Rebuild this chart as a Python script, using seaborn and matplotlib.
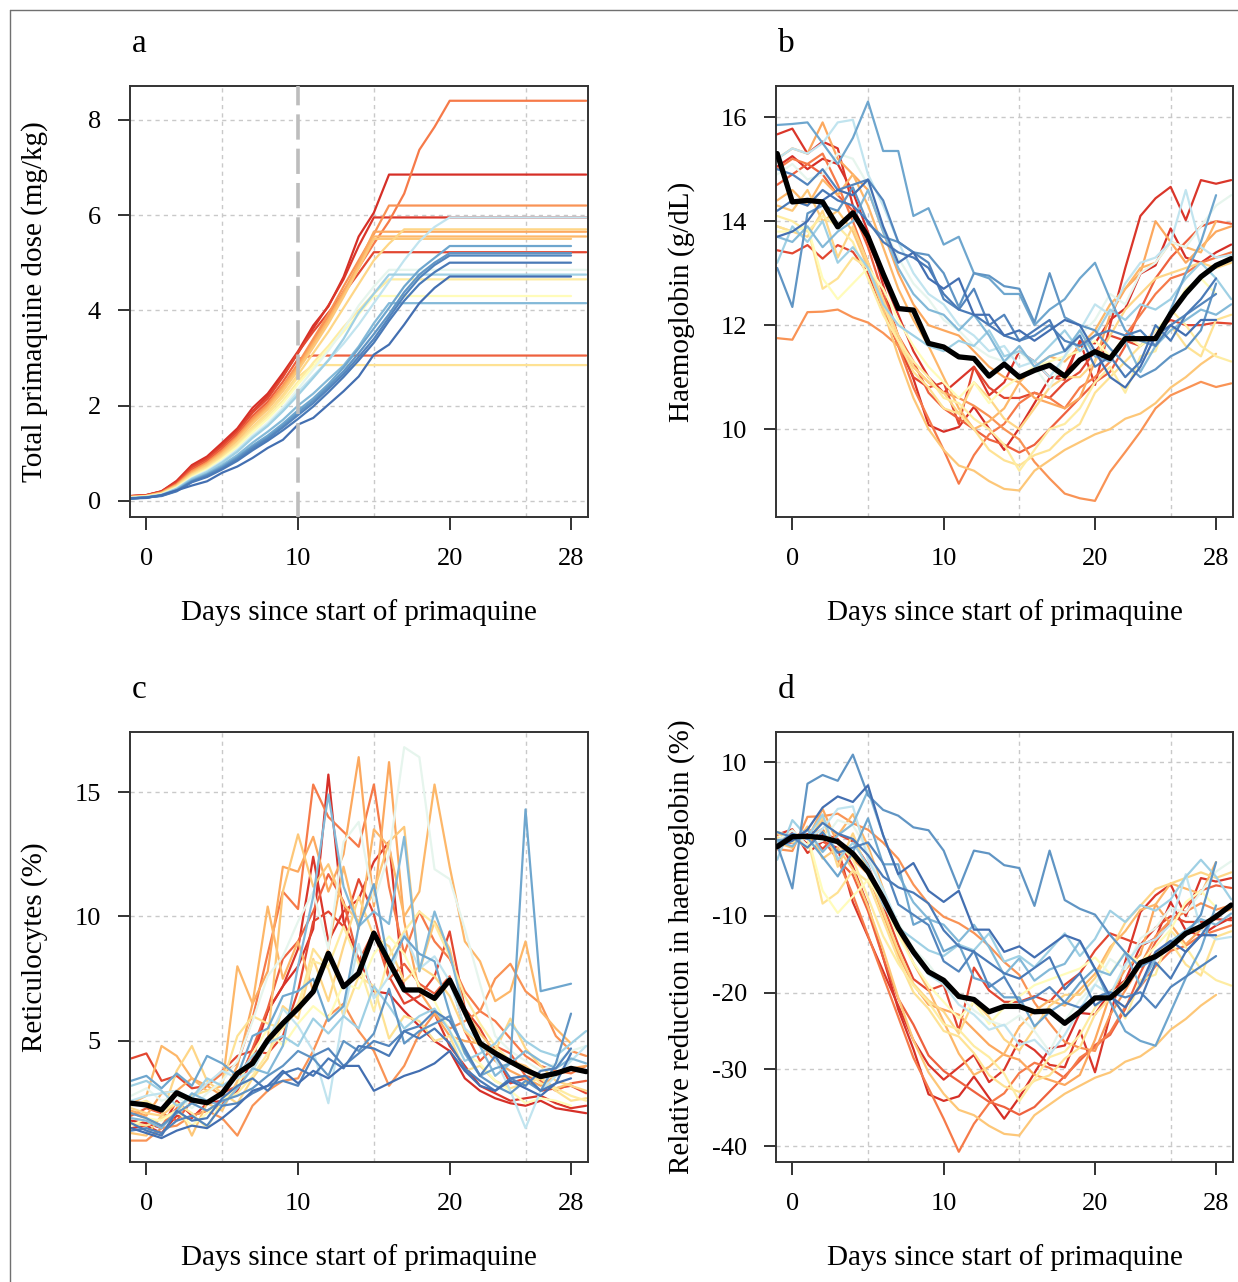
import numpy as np
import pandas as pd
import matplotlib
matplotlib.use("Agg")
import matplotlib.pyplot as plt
from matplotlib.lines import Line2D
import seaborn as sns

# ---------------- data ----------------
# Panel a: cumulative primaquine dose (mg/kg), daily from day -1 up to plateau day
dose_01 = [0.10, 0.12, 0.20, 0.42, 0.75, 0.93, 1.22, 1.52, 1.95, 2.25, 2.68, 3.14, 3.68, 4.08, 4.70, 5.55, 6.05, 6.85]
dose_02 = [0.10, 0.12, 0.20, 0.40, 0.72, 0.90, 1.18, 1.48, 1.88, 2.20, 2.62, 3.10, 3.62, 4.10, 4.65, 5.35, 5.95]
dose_03 = [0.10, 0.12, 0.19, 0.38, 0.70, 0.88, 1.15, 1.45, 1.85, 2.15, 2.60, 3.12, 3.55, 3.95, 4.35, 4.78, 5.22]
dose_04 = [0.09, 0.11, 0.18, 0.36, 0.66, 0.84, 1.10, 1.40, 1.78, 2.08, 2.50, 2.98, 3.05]
dose_05 = [0.08, 0.10, 0.17, 0.34, 0.62, 0.80, 1.05, 1.35, 1.72, 2.02, 2.40, 2.85, 3.35, 3.85, 4.40, 4.90, 5.40, 5.87, 6.45, 7.37, 7.85, 8.40]
dose_06 = [0.08, 0.10, 0.17, 0.34, 0.62, 0.80, 1.05, 1.35, 1.72, 2.02, 2.42, 2.88, 3.40, 3.92, 4.50, 5.05, 5.60, 6.20]
dose_07 = [0.08, 0.10, 0.17, 0.33, 0.60, 0.78, 1.02, 1.32, 1.68, 1.98, 2.38, 2.82, 3.32, 3.82, 4.38, 4.98, 5.65]
dose_08 = [0.08, 0.10, 0.16, 0.32, 0.58, 0.76, 1.00, 1.30, 1.65, 1.95, 2.34, 2.78, 3.28, 3.78, 4.32, 4.92, 5.55]
dose_09 = [0.08, 0.10, 0.16, 0.32, 0.57, 0.75, 0.98, 1.27, 1.62, 1.92, 2.30, 2.74, 3.22, 3.72, 4.28, 4.88, 5.50]
dose_10 = [0.07, 0.09, 0.15, 0.30, 0.55, 0.72, 0.95, 1.22, 1.55, 1.85, 2.22, 2.65, 3.10, 3.55, 4.05, 4.55, 5.05, 5.40, 5.70]
dose_11 = [0.07, 0.09, 0.15, 0.30, 0.54, 0.70, 0.92, 1.20, 1.52, 1.82, 2.18, 2.60, 2.85]
dose_12 = [0.07, 0.09, 0.14, 0.28, 0.52, 0.68, 0.90, 1.16, 1.48, 1.76, 2.10, 2.50, 2.90, 3.25, 3.65, 4.00, 4.35, 4.65]
dose_13 = [0.07, 0.09, 0.14, 0.28, 0.50, 0.66, 0.88, 1.13, 1.44, 1.72, 2.05, 2.45, 2.82, 3.20, 3.55, 3.92, 4.30]
dose_14 = [0.06, 0.08, 0.13, 0.26, 0.48, 0.63, 0.84, 1.08, 1.38, 1.64, 1.96, 2.35, 2.75, 3.15, 3.60, 4.10, 4.50, 4.85]
dose_15 = [0.06, 0.08, 0.13, 0.26, 0.47, 0.62, 0.82, 1.06, 1.35, 1.60, 1.92, 2.28, 2.62, 2.95, 3.30, 3.70, 4.15, 4.60, 5.05, 5.45, 5.75, 5.95]
dose_16 = [0.06, 0.08, 0.12, 0.25, 0.46, 0.60, 0.80, 1.03, 1.32, 1.57, 1.88, 2.22, 2.58, 2.95, 3.40, 3.95, 4.35, 4.75]
dose_17 = [0.05, 0.07, 0.12, 0.24, 0.44, 0.57, 0.75, 0.96, 1.22, 1.45, 1.70, 2.00, 2.25, 2.55, 2.84, 3.24, 3.73, 4.15]
dose_18 = [0.05, 0.07, 0.11, 0.22, 0.42, 0.55, 0.72, 0.92, 1.16, 1.37, 1.62, 1.90, 2.15, 2.45, 2.80, 3.20, 3.62, 4.05, 4.50, 4.85, 5.10, 5.35]
dose_19 = [0.05, 0.07, 0.11, 0.22, 0.41, 0.54, 0.70, 0.90, 1.13, 1.33, 1.58, 1.85, 2.10, 2.40, 2.72, 3.10, 3.50, 3.92, 4.38, 4.75, 5.00, 5.20]
dose_20 = [0.05, 0.07, 0.11, 0.21, 0.40, 0.52, 0.68, 0.87, 1.10, 1.30, 1.54, 1.80, 2.05, 2.35, 2.66, 3.02, 3.40, 3.85, 4.30, 4.68, 4.95, 5.15]
dose_21 = [0.05, 0.07, 0.10, 0.20, 0.39, 0.50, 0.66, 0.84, 1.06, 1.26, 1.48, 1.72, 1.98, 2.28, 2.60, 2.95, 3.32, 3.78, 4.20, 4.55, 4.80, 5.00]
dose_22 = [0.05, 0.06, 0.12, 0.22, 0.32, 0.41, 0.59, 0.72, 0.90, 1.11, 1.28, 1.60, 1.74, 2.02, 2.30, 2.61, 3.07, 3.28, 3.70, 4.15, 4.47, 4.71]
# last day of follow-up for each subject (panel a plateau end)
dose_end = [29, 29, 29, 29, 29, 29, 29, 29, 28, 29, 29, 29, 28, 29, 29, 29, 29, 28, 28, 28, 28, 28]

# Panel b: haemoglobin (g/dL), daily from day -1
hb_01 = [15.05, 15.25, 15.00, 15.20, 15.10, 14.56, 13.79, 12.77, 11.75, 10.97, 10.08, 9.95, 10.04, 10.43, 10.01, 9.60, 10.02, 10.50, 10.98, 11.04, 11.68, 11.65, 12.10, 12.32, 12.99, 13.15, 13.86, 13.30, 13.20, 13.40, 13.55]
hb_02 = [15.67, 15.78, 15.30, 15.53, 15.40, 14.30, 13.60, 12.90, 12.20, 11.50, 11.00, 10.70, 10.95, 11.20, 10.65, 10.90, 11.50, 11.30, 11.00, 10.95, 11.70, 10.85, 12.00, 13.10, 14.10, 14.44, 14.66, 14.02, 14.79, 14.72, 14.79]
hb_03 = [13.44, 13.38, 13.54, 13.28, 13.54, 13.41, 13.00, 12.30, 11.60, 11.00, 10.80, 10.90, 10.10, 11.20, 10.80, 10.60, 10.60, 10.70, 10.60, 10.90, 11.10, 11.50, 11.80, 11.70, 11.60, 11.90, 12.10, 12.00, 12.00, 12.05, 12.03]
hb_04 = [14.70, 14.90, 15.10, 14.90, 14.50, 14.20, 13.50, 12.60, 11.80, 11.30, 10.70, 10.40, 10.20, 10.00, 9.80, 9.70, 9.55, 9.70, 10.00, 10.30, 10.60, 10.90, 11.10, 11.60, 12.30, 12.90, 13.30, 13.60, 13.90, 14.00, 13.95]
hb_05 = [15.00, 15.20, 15.10, 15.30, 14.70, 14.00, 13.20, 12.40, 11.60, 10.80, 10.20, 9.60, 8.95, 9.50, 9.90, 10.10, 10.50, 10.70, 10.60, 10.40, 10.80, 11.00, 11.30, 11.80, 12.20, 12.60, 12.90, 13.00, 13.20, 13.30, 13.40]
hb_06 = [11.75, 11.72, 12.25, 12.26, 12.30, 12.15, 12.05, 11.85, 11.60, 11.20, 10.90, 10.70, 10.60, 10.45, 10.25, 10.00, 9.80, 9.37, 9.05, 8.76, 8.67, 8.62, 9.18, 9.56, 9.95, 10.40, 10.65, 10.78, 10.91, 10.81, 10.88]
hb_07 = [15.20, 15.40, 15.30, 15.90, 15.20, 14.90, 14.60, 13.80, 13.00, 12.40, 12.00, 11.90, 11.80, 11.50, 11.20, 11.00, 10.90, 10.60, 10.50, 10.40, 10.60, 11.30, 12.20, 12.70, 13.00, 14.00, 13.60, 13.20, 13.50, 13.80, 13.90]
hb_08 = [14.40, 14.60, 14.30, 14.80, 14.50, 14.90, 14.30, 13.50, 12.70, 12.10, 11.60, 11.00, 10.40, 10.00, 10.15, 10.40, 10.90, 11.20, 11.40, 11.30, 11.60, 11.90, 12.40, 12.70, 13.10, 13.20, 13.60, 13.50, 13.40, 14.00]
hb_09 = [14.30, 14.20, 14.60, 14.00, 14.20, 13.80, 13.10, 12.30, 11.40, 10.60, 10.00, 9.60, 9.30, 9.20, 9.00, 8.85, 8.82, 9.20, 9.40, 9.60, 9.75, 9.90, 10.00, 10.20, 10.30, 10.50, 10.80, 11.00, 11.25, 11.45]
hb_10 = [13.90, 13.80, 13.70, 14.20, 13.30, 13.90, 13.20, 12.50, 11.80, 11.20, 10.90, 10.70, 10.30, 10.90, 10.60, 10.20, 10.00, 10.40, 10.80, 11.00, 11.00, 11.30, 11.80, 12.30, 12.60, 12.90, 13.00, 13.10, 13.20, 13.10, 13.20]
hb_11 = [13.90, 13.80, 13.90, 12.70, 12.90, 13.30, 13.10, 12.40, 11.70, 11.10, 10.80, 10.40, 10.30, 10.00, 9.60, 9.40, 9.30, 9.50, 9.60, 9.90, 10.10, 10.70, 11.00, 11.30, 11.60, 11.80, 12.00, 11.60, 11.40, 12.10, 12.20]
hb_12 = [14.10, 14.00, 13.80, 14.10, 13.90, 13.60, 12.90, 12.20, 11.70, 11.30, 11.00, 10.60, 10.50, 10.20, 10.00, 9.70, 9.20, 9.60, 10.00, 10.10, 10.40, 10.90, 11.20, 10.70, 11.40, 11.50, 12.30, 12.00, 11.60, 11.40, 11.30]
hb_13 = [13.80, 13.80, 13.90, 12.90, 12.50, 12.80, 13.10, 12.70, 12.10, 11.60, 11.20, 10.90, 10.60, 10.90, 10.50, 10.80, 11.00, 11.20, 11.30, 11.40, 11.50, 11.70, 11.40, 11.80, 11.60, 11.90, 12.20, 12.70, 12.90, 12.60]
hb_14 = [14.90, 15.10, 14.80, 14.90, 15.30, 15.20, 14.70, 13.90, 13.30, 12.80, 12.50, 12.10, 11.90, 11.60, 11.40, 11.30, 11.50, 11.20, 10.80, 11.40, 11.80, 12.10, 12.60, 12.40, 13.00, 13.20, 13.60, 13.50, 13.90, 14.30, 14.50]
hb_15 = [15.20, 15.40, 15.30, 15.50, 15.90, 15.95, 14.90, 14.30, 13.60, 13.00, 12.60, 12.40, 12.00, 11.80, 11.50, 11.60, 11.20, 11.30, 11.00, 11.40, 11.90, 12.40, 12.20, 12.80, 13.20, 13.30, 13.60, 14.60, 13.50, 13.30, 13.35]
hb_16 = [13.20, 13.90, 13.60, 14.00, 13.20, 13.50, 13.10, 12.40, 12.00, 11.80, 11.60, 11.50, 11.70, 11.60, 11.90, 11.40, 11.50, 11.30, 11.60, 11.90, 11.50, 11.80, 12.30, 12.10, 12.40, 12.30, 12.50, 12.90, 13.20, 12.90, 12.50]
hb_17 = [13.70, 13.60, 13.90, 13.50, 13.80, 14.00, 14.60, 13.80, 13.10, 12.60, 12.30, 12.20, 11.90, 12.20, 11.80, 11.30, 11.60, 11.20, 11.40, 11.50, 11.90, 11.40, 11.30, 11.70, 11.10, 11.60, 11.90, 12.10, 12.30, 12.20, 12.40]
hb_18 = [15.85, 15.87, 15.90, 15.50, 15.10, 15.60, 16.30, 15.35, 15.35, 14.10, 14.25, 13.55, 13.70, 13.00, 12.90, 12.60, 12.60, 12.00, 12.30, 12.50, 12.90, 13.20, 12.50, 11.90, 11.70, 11.60, 12.30, 13.00, 13.60, 14.50]
hb_19 = [13.10, 12.35, 14.15, 14.30, 14.20, 14.65, 13.95, 13.70, 13.60, 13.40, 13.35, 13.00, 12.35, 13.00, 12.95, 12.75, 12.70, 12.05, 13.00, 12.15, 12.00, 11.90, 11.55, 11.25, 11.00, 11.15, 11.40, 11.55, 11.90, 12.80]
hb_20 = [15.00, 14.90, 14.70, 15.00, 14.60, 14.70, 14.80, 14.40, 13.60, 13.40, 13.20, 12.50, 12.30, 12.70, 12.00, 12.20, 11.70, 11.80, 12.00, 11.70, 11.60, 11.80, 11.90, 11.80, 11.90, 11.60, 12.00, 12.20, 12.40, 12.60]
hb_21 = [14.20, 14.40, 14.30, 14.60, 14.40, 14.30, 14.00, 13.60, 13.40, 13.30, 13.10, 12.60, 12.30, 12.20, 12.00, 11.80, 11.70, 11.90, 12.10, 11.50, 11.80, 11.20, 11.40, 11.00, 11.30, 12.00, 11.70, 12.20, 12.50, 12.90]
hb_22 = [13.70, 13.80, 14.00, 14.40, 14.60, 14.50, 14.80, 13.90, 13.20, 13.40, 12.90, 12.70, 12.90, 12.20, 12.20, 11.80, 11.90, 11.70, 11.90, 12.10, 12.00, 11.50, 11.00, 10.80, 11.20, 11.80, 12.00, 11.80, 12.10, 12.10]

# Panel c: reticulocytes (%), daily from day -1
ret_01 = [1.8, 1.7, 1.5, 2.6, 2.0, 2.2, 2.5, 3.3, 4.6, 6.2, 7.2, 8.0, 9.5, 15.7, 9.8, 8.3, 7.0, 6.9, 6.2, 5.6, 5.0, 4.6, 3.5, 3.0, 2.7, 2.5, 2.4, 2.6, 2.3, 2.2, 2.1]
ret_02 = [1.5, 1.6, 1.3, 2.0, 1.9, 2.5, 2.6, 3.0, 4.3, 6.2, 7.2, 8.7, 12.4, 9.0, 10.2, 10.7, 12.2, 13.0, 7.0, 6.5, 6.1, 4.8, 4.0, 3.2, 2.9, 2.6, 2.7, 2.8, 2.5, 2.3, 2.4]
ret_03 = [4.3, 4.5, 3.4, 3.6, 3.1, 3.2, 3.8, 4.4, 4.6, 4.5, 5.2, 7.0, 9.8, 10.2, 9.6, 11.5, 10.1, 7.6, 6.5, 6.8, 7.6, 9.4, 6.3, 5.5, 4.4, 3.3, 3.5, 3.0, 3.1, 3.2, 2.9]
ret_04 = [2.0, 2.3, 2.1, 1.8, 2.6, 2.5, 2.9, 3.2, 4.7, 6.3, 8.3, 9.0, 10.2, 11.7, 10.6, 8.2, 9.4, 7.5, 8.1, 7.3, 6.9, 7.6, 5.4, 4.2, 4.8, 4.5, 3.6, 3.4, 3.0, 3.3, 3.4]
ret_05 = [2.1, 1.9, 1.6, 2.3, 2.8, 3.2, 3.7, 4.1, 5.9, 8.5, 11.0, 10.3, 15.3, 14.0, 13.4, 12.8, 15.3, 11.2, 8.5, 10.2, 9.0, 8.3, 7.0, 6.2, 5.8, 5.1, 4.4, 4.0, 3.8, 3.7, 4.0]
ret_06 = [1.0, 1.0, 1.5, 1.6, 2.0, 2.2, 1.9, 1.2, 2.4, 3.0, 3.4, 3.5, 4.6, 6.0, 6.5, 5.4, 4.6, 3.2, 4.0, 5.3, 6.1, 5.5, 5.8, 6.2, 7.5, 8.1, 7.0, 6.5, 5.2, 4.6, 4.4]
ret_07 = [2.2, 2.0, 2.9, 3.0, 3.5, 3.2, 2.8, 4.0, 6.5, 7.8, 12.0, 11.8, 13.2, 11.0, 12.5, 16.4, 10.4, 16.2, 9.8, 7.0, 6.1, 5.2, 5.0, 4.9, 4.2, 3.8, 3.5, 3.2, 3.6, 3.9, 4.0]
ret_08 = [2.5, 2.8, 4.8, 4.4, 3.5, 3.0, 3.2, 8.0, 6.5, 10.4, 7.5, 9.0, 7.0, 8.7, 12.0, 9.5, 13.5, 12.8, 10.0, 11.0, 15.3, 12.0, 9.0, 8.2, 6.6, 7.0, 9.0, 6.2, 5.5, 4.9]
ret_09 = [1.3, 1.2, 2.0, 2.5, 1.2, 2.5, 2.2, 3.4, 3.8, 5.0, 11.0, 13.3, 11.2, 12.1, 10.5, 9.8, 11.0, 13.0, 13.6, 7.8, 9.8, 8.7, 6.2, 5.3, 4.6, 4.2, 4.0, 3.5, 3.1, 3.3]
ret_10 = [2.3, 2.1, 2.0, 3.8, 4.8, 3.4, 2.9, 2.5, 3.5, 4.3, 6.4, 5.9, 8.3, 6.6, 8.8, 10.8, 9.2, 8.8, 7.4, 8.0, 7.6, 6.8, 5.4, 4.8, 4.6, 5.9, 4.7, 4.0, 3.4, 3.2, 3.0]
ret_11 = [1.7, 1.6, 1.9, 2.2, 2.8, 3.0, 3.3, 5.2, 6.0, 5.7, 5.5, 6.3, 8.7, 7.9, 6.0, 7.6, 7.2, 5.1, 6.0, 5.8, 5.0, 5.2, 3.8, 4.0, 3.4, 3.1, 3.3, 3.5, 3.0, 2.6, 2.7]
ret_12 = [2.4, 2.6, 2.2, 2.5, 2.1, 1.5, 2.6, 2.9, 3.6, 4.5, 5.6, 6.5, 8.2, 8.0, 9.6, 8.1, 6.2, 8.4, 9.4, 10.2, 9.7, 8.4, 6.8, 5.7, 4.8, 4.2, 3.8, 3.3, 3.1, 2.8, 2.6]
ret_13 = [1.6, 1.9, 1.8, 2.2, 1.6, 2.1, 2.6, 3.2, 4.5, 5.5, 4.8, 5.7, 6.4, 5.9, 7.3, 7.1, 8.5, 9.2, 8.5, 7.2, 6.6, 5.4, 4.5, 4.1, 3.4, 3.0, 2.5, 2.7, 2.6, 2.4]
ret_14 = [2.8, 3.1, 2.6, 2.8, 2.3, 2.9, 3.4, 4.2, 5.8, 7.6, 8.4, 9.8, 11.0, 8.7, 13.0, 13.8, 10.6, 12.5, 16.8, 16.4, 11.9, 11.5, 9.5, 7.3, 5.2, 4.6, 4.2, 3.8, 4.1, 4.6, 4.8]
ret_15 = [2.6, 2.8, 2.9, 3.0, 2.7, 3.3, 3.8, 3.5, 3.8, 5.0, 6.3, 5.6, 4.6, 2.5, 6.1, 8.9, 6.7, 7.6, 9.3, 7.9, 8.4, 7.4, 5.5, 5.0, 4.3, 3.0, 1.5, 3.0, 3.6, 4.2, 4.8]
ret_16 = [3.2, 3.4, 3.0, 2.4, 2.7, 3.5, 3.2, 3.6, 4.4, 4.9, 5.2, 4.8, 5.9, 5.3, 6.0, 5.5, 7.2, 6.4, 5.5, 6.0, 6.3, 5.4, 4.2, 4.5, 4.9, 5.7, 5.0, 4.6, 4.4, 4.9, 5.4]
ret_17 = [1.9, 1.8, 1.5, 2.2, 2.9, 2.6, 2.4, 3.1, 3.9, 3.7, 4.8, 8.0, 10.8, 14.9, 11.2, 9.6, 10.2, 9.7, 13.2, 7.8, 10.2, 8.5, 6.1, 4.8, 3.6, 4.1, 4.6, 4.2, 3.9, 4.3, 4.1]
ret_18 = [3.4, 3.6, 3.1, 3.7, 3.2, 4.4, 4.1, 3.6, 5.2, 5.5, 6.8, 7.0, 7.5, 5.8, 6.4, 9.6, 11.3, 8.0, 9.2, 8.5, 8.2, 6.1, 4.5, 3.6, 3.9, 4.1, 14.3, 7.0, 7.15, 7.3]
ret_19 = [2.1, 1.9, 1.6, 2.1, 2.5, 2.2, 2.6, 2.8, 3.1, 3.6, 4.0, 4.6, 4.3, 3.6, 5.0, 4.6, 5.3, 7.1, 4.9, 5.4, 5.7, 6.0, 4.6, 3.6, 3.2, 2.9, 3.4, 3.0, 4.1, 6.1]
ret_20 = [1.4, 1.5, 1.3, 1.8, 2.0, 1.6, 2.4, 2.5, 2.9, 3.2, 3.4, 3.2, 4.4, 4.7, 4.0, 4.5, 5.0, 4.8, 5.4, 5.6, 6.2, 5.8, 4.7, 3.6, 4.4, 3.5, 3.2, 3.8, 3.9, 4.7]
ret_21 = [1.7, 1.4, 1.2, 2.2, 1.8, 1.9, 2.7, 3.2, 3.5, 3.0, 3.7, 3.9, 3.6, 4.3, 3.9, 4.8, 4.7, 4.4, 5.4, 5.1, 5.5, 4.9, 3.9, 3.4, 3.0, 3.5, 3.6, 3.0, 3.3, 4.5]
ret_22 = [1.5, 1.3, 1.1, 1.4, 1.6, 1.5, 1.9, 2.4, 3.0, 3.2, 3.8, 3.3, 3.8, 3.5, 4.0, 4.0, 3.0, 3.3, 3.6, 3.8, 4.1, 4.6, 3.8, 3.2, 3.0, 3.4, 3.1, 2.8, 3.3, 3.5]

# Group means (black lines), daily from day -1 to 29
mean_hb = [15.30, 14.37, 14.40, 14.37, 13.89, 14.16, 13.70, 12.99, 12.32, 12.29, 11.65, 11.58, 11.39, 11.36, 11.02, 11.25,
           11.00, 11.13, 11.23, 11.02, 11.33, 11.49, 11.36, 11.74, 11.74, 11.74, 12.22, 12.61, 12.93, 13.15, 13.28]
mean_ret = [2.50, 2.43, 2.23, 2.92, 2.63, 2.52, 2.90, 3.70, 4.10, 5.04, 5.71, 6.31, 6.98, 8.52, 7.18, 7.72,
            9.33, 8.18, 7.05, 7.05, 6.71, 7.45, 6.18, 4.91, 4.51, 4.17, 3.84, 3.57, 3.70, 3.90, 3.77]
mean_rel = [-1.0, 0.3, 0.35, 0.17, -0.35, -1.9, -4.25, -7.7, -11.6, -14.7, -17.3, -18.4, -20.5, -20.9, -22.5, -21.8,
            -21.8, -22.5, -22.4, -24.0, -22.5, -20.7, -20.7, -19.0, -16.1, -15.3, -14.0, -12.3, -11.4, -10.1, -8.6]

# colour position of each subject on the red-yellow-blue scale
col_pos = [0.10, 0.11, 0.14, 0.18, 0.22, 0.26, 0.29, 0.32, 0.35, 0.38, 0.41, 0.44, 0.49, 0.58, 0.66, 0.72,
           0.77, 0.81, 0.84, 0.87, 0.89, 0.91]

# ---------------- assemble ----------------
doses = [dose_01, dose_02, dose_03, dose_04, dose_05, dose_06, dose_07, dose_08, dose_09, dose_10, dose_11,
         dose_12, dose_13, dose_14, dose_15, dose_16, dose_17, dose_18, dose_19, dose_20, dose_21, dose_22]
hbs = [hb_01, hb_02, hb_03, hb_04, hb_05, hb_06, hb_07, hb_08, hb_09, hb_10, hb_11,
       hb_12, hb_13, hb_14, hb_15, hb_16, hb_17, hb_18, hb_19, hb_20, hb_21, hb_22]
rets = [ret_01, ret_02, ret_03, ret_04, ret_05, ret_06, ret_07, ret_08, ret_09, ret_10, ret_11,
        ret_12, ret_13, ret_14, ret_15, ret_16, ret_17, ret_18, ret_19, ret_20, ret_21, ret_22]
n = len(hbs)
for h, r in zip(hbs, rets):
    assert len(h) in (30, 31) and len(r) == len(h), (len(h), len(r))

ids = [f"S{i+1:02d}" for i in range(n)]
cmap = plt.get_cmap("RdYlBu")
pal = {sid: cmap(p) for sid, p in zip(ids, col_pos)}

rows_a, rows_b, rows_c, rows_d = [], [], [], []
for sid, dv, end in zip(ids, doses, dose_end):
    xs = list(range(-1, len(dv) - 1)) + [end]
    ys = dv + [dv[-1]]
    rows_a += [(sid, x, y) for x, y in zip(xs, ys)]
for sid, hv, rv in zip(ids, hbs, rets):
    xs = list(range(-1, len(hv) - 1))
    base = np.mean(hv[:3])
    rows_b += [(sid, x, y) for x, y in zip(xs, hv)]
    rows_c += [(sid, x, y) for x, y in zip(xs, rv)]
    rows_d += [(sid, x, 100.0 * (y / base - 1.0)) for x, y in zip(xs, hv)]

dfa = pd.DataFrame(rows_a, columns=["sid", "day", "val"])
dfb = pd.DataFrame(rows_b, columns=["sid", "day", "val"])
dfc = pd.DataFrame(rows_c, columns=["sid", "day", "val"])
dfd = pd.DataFrame(rows_d, columns=["sid", "day", "val"])
days = list(range(-1, 30))

# ---------------- style ----------------
sns.set_theme(style="white")
plt.rcParams["font.family"] = ["Liberation Serif", "DejaVu Serif"]
plt.rcParams["axes.unicode_minus"] = False

fig = plt.figure(figsize=(12.38, 12.82), dpi=100)
W, H = 1238, 1282


def make_ax(left, top, right, bottom):
    return fig.add_axes([left / W, 1 - bottom / H, (right - left) / W, (bottom - top) / H])


ax_a = make_ax(130, 86, 588, 517)
ax_b = make_ax(776, 86, 1233, 517)
ax_c = make_ax(130, 732, 588, 1162)
ax_d = make_ax(776, 732, 1233, 1162)

TICK_FS = 19
LAB_FS = 21
GRID = dict(color="#c9c9c9", lw=1.0, ls=(0, (3, 3)))


def style(ax, ylim, yticks, ylabel):
    ax.set_xlim(-1.08, 29.12)
    ax.set_ylim(*ylim)
    ax.set_xticks([0, 10, 20, 28])
    ax.set_xticks([0, 5, 10, 15, 20, 25], minor=True)
    ax.set_yticks(yticks)
    ax.grid(False)
    ax.grid(axis="x", which="minor", **GRID)
    ax.grid(axis="y", which="major", **GRID)
    ax.set_axisbelow(True)
    ax.tick_params(axis="x", which="minor", length=0, bottom=False)
    ax.tick_params(which="major", direction="out", length=9, width=1.3, color="#222222",
                   labelsize=TICK_FS, bottom=True, left=True, labelcolor="black")
    ax.tick_params(axis="x", pad=13)
    ax.tick_params(axis="y", pad=12)
    for s in ax.spines.values():
        s.set_visible(True)
        s.set_color("#333333")
        s.set_linewidth(1.4)
    ax.set_xlabel("Days since start of primaquine", fontsize=LAB_FS, color="black")
    ax.set_ylabel(ylabel, fontsize=LAB_FS, color="black")
    ax.xaxis.label.set_va("center")
    ax.yaxis.label.set_va("center")
    ax.xaxis.set_label_coords(0.5, -96 / 431)
    ax.yaxis.set_label_coords(-95 / 458, 0.5)


def draw(ax, df):
    sns.lineplot(data=df, x="day", y="val", hue="sid", hue_order=ids, palette=pal, units="sid",
                 estimator=None, legend=False, lw=1.6, ax=ax, sort=False)


draw(ax_a, dfa)
ax_a.axvline(10, color="#bdbdbd", lw=2.6, ls=(0, (7, 2.5)), zorder=4)
style(ax_a, (-0.34, 8.71), [0, 2, 4, 6, 8], "Total primaquine dose (mg/kg)")

draw(ax_b, dfb)
sns.lineplot(x=days, y=mean_hb, color="black", lw=3.8, ax=ax_b, zorder=5)
style(ax_b, (8.31, 16.6), [10, 12, 14, 16], "Haemoglobin (g/dL)")

draw(ax_c, dfc)
sns.lineplot(x=days, y=mean_ret, color="black", lw=3.8, ax=ax_c, zorder=5)
style(ax_c, (0.14, 17.41), [5, 10, 15], "Reticulocytes (%)")

draw(ax_d, dfd)
sns.lineplot(x=days, y=mean_rel, color="black", lw=3.8, ax=ax_d, zorder=5)
style(ax_d, (-42.06, 13.93), [10, 0, -10, -20, -30, -40], "Relative reduction in haemoglobin (%)")

# panel letters
for letter, x, y in [("a", 139, 52), ("b", 786, 52), ("c", 139, 698), ("d", 786, 698)]:
    fig.text(x / W, 1 - y / H, letter, ha="center", va="baseline", fontsize=24, color="black")

# outer frame (top and left edges)
fig.add_artist(Line2D([10 / W, 1], [1 - 10 / H, 1 - 10 / H], transform=fig.transFigure, color="#707070", lw=1.0))
fig.add_artist(Line2D([10 / W, 10 / W], [0, 1 - 10 / H], transform=fig.transFigure, color="#707070", lw=1.0))

fig.savefig("out.png", dpi=100, facecolor="white")
